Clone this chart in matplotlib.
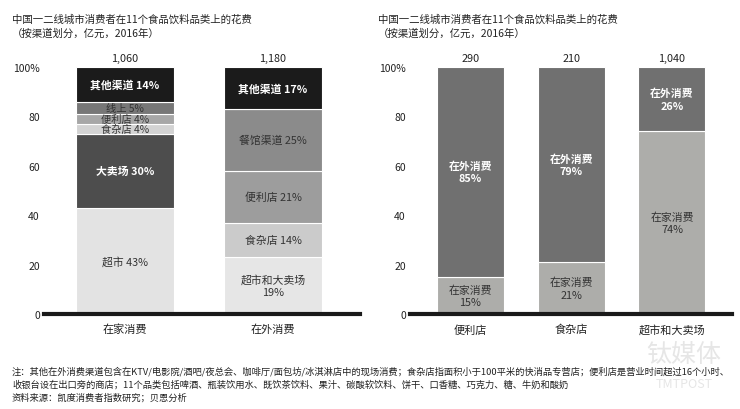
import matplotlib
matplotlib.use("Agg")
import matplotlib.pyplot as plt

plt.rcParams['font.family'] = ['Noto Sans CJK SC', 'DejaVu Sans']

# ---------- data ----------
title_line1 = "中国一二线城市消费者在11个食品饮料品类上的花费"
title_line2 = "（按渠道划分，亿元，2016年）"

left_categories = ["在家消费", "在外消费"]
left_totals = ["1,060", "1,180"]
# segments bottom -> top
home_segments = ["超市", "大卖场", "食杂店", "便利店", "线上", "其他渠道"]
home_values = [43, 30, 4, 4, 5, 14]
home_labels = ["超市 43%", "大卖场 30%", "食杂店 4%", "便利店 4%", "线上 5%", "其他渠道 14%"]
away_segments = ["超市和大卖场", "食杂店", "便利店", "餐馆渠道", "其他渠道"]
away_values = [23, 14, 21, 25, 17]
away_labels = ["超市和大卖场\n19%", "食杂店 14%", "便利店 21%", "餐馆渠道 25%", "其他渠道 17%"]

right_categories = ["便利店", "食杂店", "超市和大卖场"]
right_totals = ["290", "210", "1,040"]
right_home = [15, 21, 74]
right_away = [85, 79, 26]

yticks = [0, 20, 40, 60, 80, 100]
ytick_labels = ["0", "20", "40", "60", "80", "100%"]

footnote1 = ("注：其他在外消费渠道包含在KTV/电影院/酒吧/夜总会、咖啡厅/面包坊/冰淇淋店中的现场消费；"
             "食杂店指面积小于100平米的快消品专营店；便利店是营业时间超过16个小时、")
footnote2 = "收银台设在出口旁的商店；11个品类包括啤酒、瓶装饮用水、既饮茶饮料、果汁、碳酸软饮料、饼干、口香糖、巧克力、糖、牛奶和酸奶"
footnote3 = "资料来源：凯度消费者指数研究；贝恩分析"

# ---------- styles ----------
home_colors = ["#e3e3e3", "#4d4d4d", "#d3d3d3", "#a7a7a7", "#777777", "#1b1b1b"]
home_text = ["#333333", "white", "#333333", "#333333", "#333333", "white"]
away_colors = ["#e6e6e6", "#cbcbcb", "#9d9d9d", "#8b8b8b", "#1b1b1b"]
away_text = ["#333333", "#333333", "#333333", "#333333", "white"]
r_home_color = "#adadaa"
r_away_color = "#707070"

fig = plt.figure(figsize=(7.4, 4.1), dpi=100)
fig.patch.set_facecolor("white")

W, H = 740, 410
def axrect(x0, x1, ytop, ybot):
    return [x0 / W, 1 - ybot / H, (x1 - x0) / W, (ybot - ytop) / H]

axL = fig.add_axes(axrect(44, 360, 68, 315))
axR = fig.add_axes(axrect(410, 732, 68, 315))

def style_axis(ax):
    for s in ["top", "right", "left"]:
        ax.spines[s].set_visible(False)
    ax.spines["bottom"].set_linewidth(3)
    ax.spines["bottom"].set_color("#1a1a1a")
    ax.set_ylim(0, 100)
    ax.set_yticks(yticks)
    ax.set_yticklabels(ytick_labels, fontsize=7.5, color="#222222")
    ax.tick_params(axis="y", length=0, pad=3)
    ax.tick_params(axis="x", length=0, pad=7, labelsize=8, labelcolor="#222222")
    ax.set_axisbelow(True)

# left panel
bw = 0.662
def stack(ax, x, values, colors, labels, tcolors, width):
    bottom = 0
    for v, c, lab, tc in zip(values, colors, labels, tcolors):
        ax.bar(x, v, bottom=bottom, width=width, color=c, edgecolor="white", linewidth=0.8)
        bold = tc == "white"
        ax.text(x, bottom + v / 2, lab, ha="center", va="center", fontsize=7.8 if v > 6 else 7.4,
                color=tc, fontweight="bold" if bold else "normal", linespacing=1.3)
        bottom += v

stack(axL, 0, home_values, home_colors, home_labels, home_text, bw)
stack(axL, 1, away_values, away_colors, away_labels, away_text, bw)
axL.set_xlim(-0.547, 1.588)
axL.set_xticks([0, 1])
axL.set_xticklabels(left_categories)
for i, t in enumerate(left_totals):
    axL.text(i, 103.6, t, ha="center", va="center", fontsize=7.8, color="#222222", clip_on=False)
style_axis(axL)

# right panel
bwr = 0.665
xs = list(range(len(right_categories)))
axR.bar(xs, right_home, width=bwr, color=r_home_color, edgecolor="white", linewidth=0.8)
axR.bar(xs, right_away, bottom=right_home, width=bwr, color=r_away_color, edgecolor="white", linewidth=0.8)
for i in xs:
    axR.text(i, right_home[i] / 2, f"在家消费\n{right_home[i]}%", ha="center", va="center",
             fontsize=7.8, color="#333333", linespacing=1.3)
    axR.text(i, right_home[i] + right_away[i] / 2, f"在外消费\n{right_away[i]}%", ha="center",
             va="center", fontsize=7.8, color="white", fontweight="bold", linespacing=1.3)
    axR.text(i, 103.6, right_totals[i], ha="center", va="center", fontsize=7.8, color="#222222", clip_on=False)
axR.set_xlim(-0.60, 2.596)
axR.set_xticks(xs)
axR.set_xticklabels(right_categories)
style_axis(axR)

# titles
for x0 in (12, 378):
    fig.text(x0 / W, 1 - 20 / H, title_line1, fontsize=7.5, color="#222222", ha="left", va="center")
    fig.text(x0 / W, 1 - 34 / H, title_line2, fontsize=7.5, color="#222222", ha="left", va="center")

# watermark (faint, behind footnotes)
fig.text(684 / W, 1 - 355 / H, "钛媒体", fontsize=18, color="#e6e6e6", ha="center", va="center", zorder=0)
fig.text(684 / W, 1 - 385 / H, "TMTPOST", fontsize=9, color="#e6e6e6", ha="center", va="center", zorder=0)

# footnotes
fig.text(12 / W, 1 - 371.5 / H, footnote1, fontsize=6.7, color="#222222", ha="left", va="center")
fig.text(12 / W, 1 - 384.5 / H, footnote2, fontsize=6.7, color="#222222", ha="left", va="center")
fig.text(12 / W, 1 - 397.5 / H, footnote3, fontsize=6.7, color="#222222", ha="left", va="center")

fig.savefig("out.png", dpi=100, facecolor="white")
